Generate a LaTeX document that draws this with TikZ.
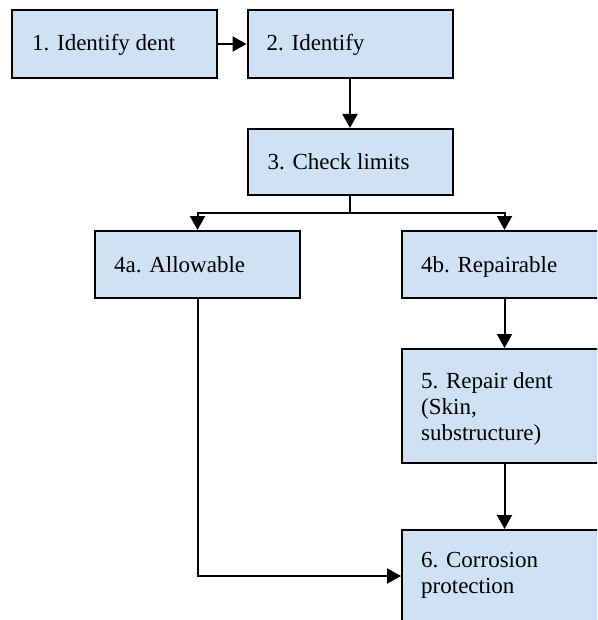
\documentclass[tikz,border=0pt]{standalone}
\usepackage{fontspec}
\setmainfont{Liberation Serif}
\usetikzlibrary{arrows.meta,calc}
\definecolor{boxfill}{RGB}{207,226,243}
\tikzset{
  box/.style={draw=black, fill=boxfill, line width=2pt, minimum width=205pt, inner sep=0pt, rectangle},
  txt/.style={anchor=base west, inner sep=0pt, align=left, font=\fontsize{23pt}{26pt}\selectfont},
  arr/.style={line width=2pt, -{Triangle[length=14pt,width=15pt]}},
  ln/.style={line width=2pt}
}
\begin{document}
\begin{tikzpicture}[x=1pt,y=-1pt]
\path[use as bounding box] (0,0) rectangle (597,620);
\clip (0,0) rectangle (597,620);
\node[box, minimum height=68pt] (b1) at (114.5,44) {};
\node[box, minimum height=68pt] (b2) at (350,44) {};
\node[box, minimum height=66pt] (b3) at (350,162) {};
\node[box, minimum height=67pt] (b4a) at (197.5,264.5) {};
\node[box, minimum height=67pt] (b4b) at (504.5,264.5) {};
\node[box, minimum height=114pt] (b5) at (504.5,406) {};
\node[box, minimum height=114pt] (b6) at (504.5,587) {};

\node[txt] (t1) at ($(b1.north west)+(21,42)$) {1. Identify dent};
\node[txt] (t2) at ($(b2.north west)+(20,42)$) {2. Identify};
\node[txt] (t3) at ($(b3.north west)+(21,42)$) {3. Check limits};
\node[txt] (t4a) at ($(b4a.north west)+(20,42)$) {4a. Allowable};
\node[txt] (t4b) at ($(b4b.north west)+(20,42)$) {4b. Repairable};
\node[txt, anchor=north west] (t5) at ($(b5.north west)+(20,24.5)$) {5. Repair dent\\(Skin,\\substructure)};
\node[txt, anchor=north west] (t6) at ($(b6.north west)+(20,23.5)$) {6. Corrosion\\protection};

\coordinate (split) at (350,213);
\coordinate (e6) at ($(b6.north west)+(0,47)$);

\draw[arr] (b1.east) -- (b2.west);
\draw[arr] (b2.south) -- (b3.north);
\draw[ln] (b3.south) -- (split);
\draw[arr] (split) -| (b4a.north);
\draw[arr] (split) -| (b4b.north);
\draw[arr] (b4b.south) -- (b5.north);
\draw[arr] (b5.south) -- (b6.north);
\draw[arr] (b4a.south) |- (e6);
\end{tikzpicture}
\end{document}
